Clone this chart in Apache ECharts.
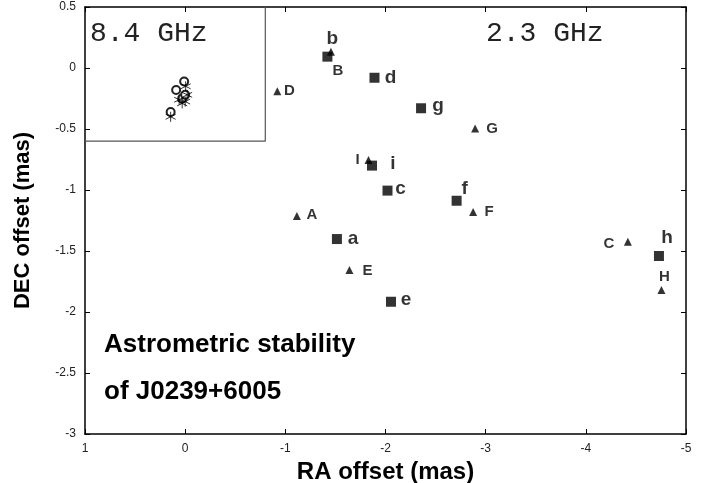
<!DOCTYPE html>
<html>
<head>
<meta charset="utf-8">
<script src="https://cdn.jsdelivr.net/npm/echarts@6/dist/echarts.min.js"></script>
<style>html,body{margin:0;padding:0;background:#fff}#c{width:717px;height:483px}</style>
</head>
<body>
<div id="c"></div>
<script>
// ---- data ----
var xTicks = [1, 0, -1, -2, -3, -4, -5];
var yTicks = [0.5, 0, -0.5, -1, -1.5, -2, -2.5, -3];

// 2.3 GHz epochs (squares, lowercase)
var squareNames = ['a', 'b', 'c', 'd', 'e', 'f', 'g', 'h', 'i'];
var squareRA    = [-1.515, -1.42, -2.02, -1.89, -2.055, -2.71, -2.355, -4.73, -1.865];
var squareDEC   = [-1.402, 0.093, -1.005, -0.08, -1.916, -1.088, -0.33, -1.541, -0.80];

// 2.3 GHz epochs (triangles, uppercase)
var triNames = ['A', 'B', 'C', 'D', 'E', 'F', 'G', 'H', 'I'];
var triRA    = [-1.115, -1.455, -4.42, -0.92, -1.64, -2.875, -2.895, -4.755, -1.83];
var triDEC   = [-1.213, 0.134, -1.424, -0.19, -1.656, -1.18, -0.495, -1.82, -0.754];

// 8.4 GHz inset points
var circleRA  = [0.01, 0.09, 0.03, 0.145, 0.0];
var circleDEC = [-0.11, -0.18, -0.25, -0.36, -0.22];
var starRA    = [-0.005, -0.02, 0.0, 0.06, 0.145, 0.03];
var starDEC   = [-0.15, -0.22, -0.275, -0.26, -0.40, -0.29];

// inset box corner (RA, DEC)
var insetCorner = [-0.8, -0.6];

// ---- styling: label offsets (px) ----
var labelOffset = {
  a: [16, 0], b: [5, -18], c: [13, -2], d: [16, 0], e: [15, -2], f: [8, -12], g: [17, -2], h: [8, -18], i: [21, -2],
  A: [15, -1], B: [7, 19], C: [-19, 2], D: [12, 0], E: [18, 1], F: [16, 0], G: [17, 0], H: [3, -13], I: [-11, 0]
};

var FONT = '"Liberation Sans", Arial, Helvetica, sans-serif';

function pts(names, ra, dec, fs) {
  return names.map(function (n, i) {
    return {
      name: n,
      value: [ra[i], dec[i]],
      label: {
        show: true, formatter: n, position: 'inside', offset: labelOffset[n],
        fontSize: fs, fontWeight: 'bold', color: '#000', fontFamily: FONT
      }
    };
  });
}
function zip(a, b) { return a.map(function (v, i) { return [v, b[i]]; }); }

var chart = echarts.init(document.getElementById('c'), null, { renderer: 'canvas' });

var axisCommon = {
  type: 'value',
  axisLine: { show: true, onZero: false, lineStyle: { color: '#000', width: 1.5 } },
  axisTick: { show: true, inside: true, length: 5, lineStyle: { color: '#000', width: 1 } },
  splitLine: { show: false }
};

var asterisk = 'path://M0,-5L0,5M-4.33,-2.5L4.33,2.5M-4.33,2.5L4.33,-2.5';

chart.setOption({
  animation: false,
  backgroundColor: '#fff',
  grid: { left: 85, right: 31, top: 7, bottom: 49, outerBoundsMode: 'none', containLabel: false },
  xAxis: [
    Object.assign({}, axisCommon, {
      position: 'bottom', min: xTicks[xTicks.length - 1], max: xTicks[0], interval: 1, inverse: true,
      name: 'RA offset (mas)', nameLocation: 'middle', nameGap: 16,
      nameTextStyle: { fontSize: 24, fontWeight: 'bold', color: '#000', fontFamily: FONT },
      axisLabel: { show: true, fontSize: 12, color: '#222', margin: 9, fontFamily: FONT }
    }),
    Object.assign({}, axisCommon, {
      position: 'top', min: xTicks[xTicks.length - 1], max: xTicks[0], interval: 1, inverse: true,
      axisLabel: { show: false }
    })
  ],
  yAxis: [
    Object.assign({}, axisCommon, {
      position: 'left', min: yTicks[yTicks.length - 1], max: yTicks[0], interval: 0.5,
      name: 'DEC offset (mas)', nameLocation: 'middle', nameGap: 51, nameRotate: 90,
      nameTextStyle: { fontSize: 22, fontWeight: 'bold', color: '#000', fontFamily: FONT },
      axisLabel: { show: true, fontSize: 12, color: '#222', margin: 9, fontFamily: FONT }
    }),
    Object.assign({}, axisCommon, {
      position: 'right', min: yTicks[yTicks.length - 1], max: yTicks[0], interval: 0.5,
      axisLabel: { show: false }
    })
  ],
  series: [
    {
      type: 'line', xAxisIndex: 0, yAxisIndex: 0, symbol: 'none', silent: true,
      data: [[insetCorner[0], yTicks[0]], [insetCorner[0], insetCorner[1]], [xTicks[0], insetCorner[1]]],
      lineStyle: { color: '#555', width: 1.2 }
    },
    {
      type: 'scatter', symbol: 'emptyCircle', symbolSize: 8,
      itemStyle: { color: '#222', borderWidth: 0.9, opacity: 1 },
      data: zip(circleRA, circleDEC)
    },
    {
      type: 'scatter', symbol: asterisk, symbolSize: 10,
      itemStyle: { color: 'none', borderColor: '#000', borderWidth: 1 },
      data: zip(starRA, starDEC)
    },
    {
      type: 'scatter', symbol: 'rect', symbolSize: 10,
      itemStyle: { color: '#000' },
      data: pts(squareNames, squareRA, squareDEC, 19)
    },
    {
      type: 'scatter', symbol: 'triangle', symbolSize: 8,
      itemStyle: { color: '#000' },
      data: pts(triNames, triRA, triDEC, 15)
    }
  ],
  graphic: [
    { type: 'text', left: 90, top: 20, style: { text: '8.4 GHz', font: '28px "Liberation Mono", "Courier New", monospace', fill: '#222' } },
    { type: 'text', left: 486, top: 20, style: { text: '2.3 GHz', font: '28px "Liberation Mono", "Courier New", monospace', fill: '#222' } },
    { type: 'text', left: 104, top: 332, style: { text: 'Astrometric stability', font: 'bold 26px ' + FONT, fill: '#000' } },
    { type: 'text', left: 104, top: 379, style: { text: 'of J0239+6005', font: 'bold 26px ' + FONT, fill: '#000' } }
  ]
});
</script>
</body>
</html>
